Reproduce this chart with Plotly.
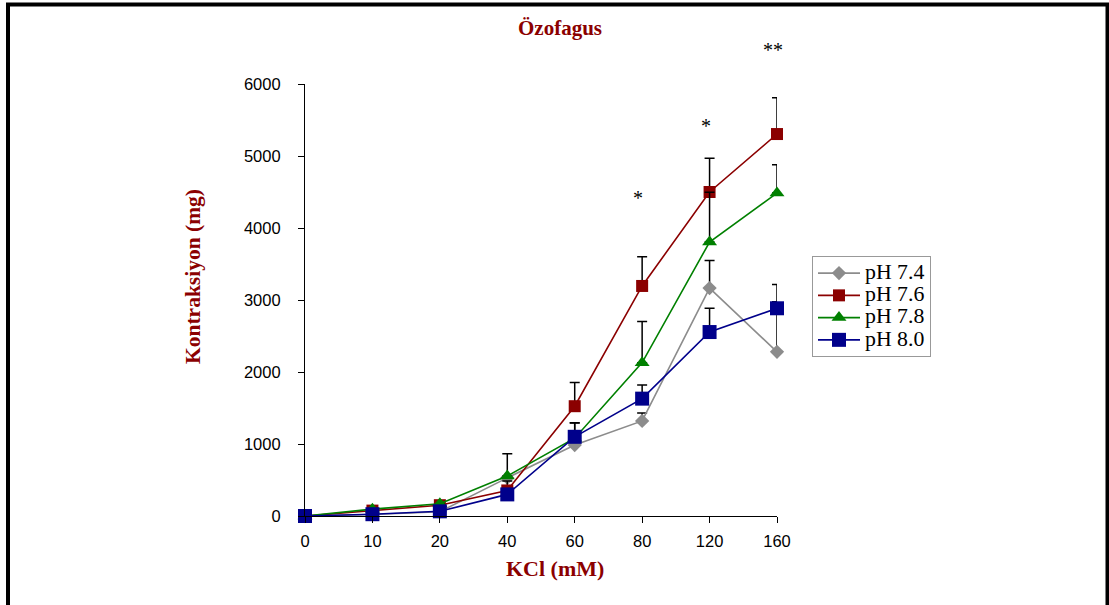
import plotly.graph_objects as go

# ---------------- data ----------------
kcl = ["0", "10", "20", "40", "60", "80", "120", "160"]

ph74 = [0, 20, 60, 530, 985, 1320, 3165, 2280]
ph76 = [0, 75, 150, 355, 1525, 3195, 4500, 5305]
ph78 = [0, 95, 170, 555, 1080, 2130, 3805, 4485]
ph80 = [0, 25, 65, 300, 1100, 1630, 2555, 2885]

# upward error bars (None = none drawn)
err74 = [None, None, None, None, None, 110, 385, 935]
err76 = [None, None, None, 130, 330, 405, 470, 505]
err78 = [None, None, None, 310, 215, 570, 690, 395]
err80 = [None, None, None, None, 190, 190, 330, 90]

series_names = ["pH 7.4", "pH 7.6", "pH 7.8", "pH 8.0"]
series_colors = ["#8c8c8c", "#8b0000", "#008000", "#00008b"]
series_symbols = ["diamond", "square", "triangle-up", "square"]
series_sizes = [11, 12, 13, 14]

sig_x = ["80", "120", "160"]
sig_y = [4420, 5410, 6470]
sig_text = ["*", "*", "**"]

title_text = "Özofagus"
x_title = "KCl (mM)"
y_title = "Kontraksiyon (mg)"
y_ticks = [0, 1000, 2000, 3000, 4000, 5000, 6000]
y_max = 6000

# ---------------- layout geometry ----------------
W, H = 1109, 605
L, R, T, B = 305, 332, 84, 89
pw, ph = W - L - R, H - T - B


def px_x(px):
    return (px - L) / pw


def px_y(py):
    return (H - B - py) / ph


serif = "Liberation Serif, Times New Roman, serif"
sans = "Liberation Sans, Arial, sans-serif"
dark_red = "#8b0000"

fig = go.Figure()
for name, ys, errs, col, sym, sz in zip(
    series_names,
    [ph74, ph76, ph78, ph80],
    [err74, err76, err78, err80],
    series_colors,
    series_symbols,
    series_sizes,
):
    fig.add_trace(
        go.Scatter(
            x=kcl,
            y=ys,
            name='<span style="font-size:21.8px">' + name + "</span>",
            mode="lines+markers",
            line=dict(color=col, width=1.6),
            marker=dict(symbol=sym, size=sz, color=col),
            error_y=dict(
                type="data",
                symmetric=False,
                array=errs,
                arrayminus=[None] * len(errs),
                color="black",
                thickness=1.5,
                width=5,
            ),
            cliponaxis=False,
        )
    )

for sx, sy, st in zip(sig_x, sig_y, sig_text):
    fig.add_annotation(
        x=kcl.index(sx), y=sy / y_max, xref="x", yref="paper",
        text=st, showarrow=False, xshift=-4,
        xanchor="center", yanchor="middle",
        font=dict(family=serif, size=20, color="black"),
    )

# titles
fig.add_annotation(
    x=px_x(560), y=px_y(28), xref="paper", yref="paper", text="<b>" + title_text + "</b>",
    showarrow=False, xanchor="center", yanchor="middle",
    font=dict(family=serif, size=21, color=dark_red),
)
fig.add_annotation(
    x=px_x(555), y=px_y(568), xref="paper", yref="paper", text="<b>" + x_title + "</b>",
    showarrow=False, xanchor="center", yanchor="middle",
    font=dict(family=serif, size=22, color=dark_red),
)
fig.add_annotation(
    x=px_x(193), y=px_y(277), xref="paper", yref="paper", text="<b>" + y_title + "</b>",
    showarrow=False, textangle=-90, xanchor="center", yanchor="middle",
    font=dict(family=serif, size=21.5, color=dark_red),
)

# outer frame
fig.add_shape(
    type="rect", xref="paper", yref="paper",
    x0=px_x(8), x1=px_x(1107.5), y0=px_y(4.5), y1=px_y(640),
    line=dict(color="black", width=4), fillcolor="rgba(0,0,0,0)", layer="above",
)

fig.update_layout(
    width=W, height=H, autosize=False,
    margin=dict(l=L, r=R, t=T, b=B),
    paper_bgcolor="white", plot_bgcolor="white",
    showlegend=True,
    legend=dict(
        x=px_x(812), y=px_y(256), xanchor="left", yanchor="top",
        bordercolor="#999999", borderwidth=1, bgcolor="white",
        font=dict(family=serif, size=14.8, color="black"),
        itemwidth=42, tracegroupgap=0,
    ),
    xaxis=dict(
        type="category", categoryorder="array", categoryarray=kcl,
        range=[0, len(kcl) - 1],
        showline=True, linecolor="black", linewidth=1.2,
        ticks="outside", ticklen=6, tickcolor="black",
        showgrid=False, zeroline=False,
        tickfont=dict(family=sans, size=16.5, color="black"),
        ticklabelstandoff=4,
    ),
    yaxis=dict(
        range=[0, y_max], tickvals=y_ticks,
        showline=True, linecolor="black", linewidth=1.2,
        ticks="outside", ticklen=6, tickcolor="black",
        showgrid=False, zeroline=False,
        tickfont=dict(family=sans, size=16.5, color="black"),
        ticklabelstandoff=14,
    ),
)

fig.write_html(
    "out.html",
    config={"displayModeBar": False},
    post_script="document.body.style.margin='0';document.body.style.overflow='hidden';",
)
